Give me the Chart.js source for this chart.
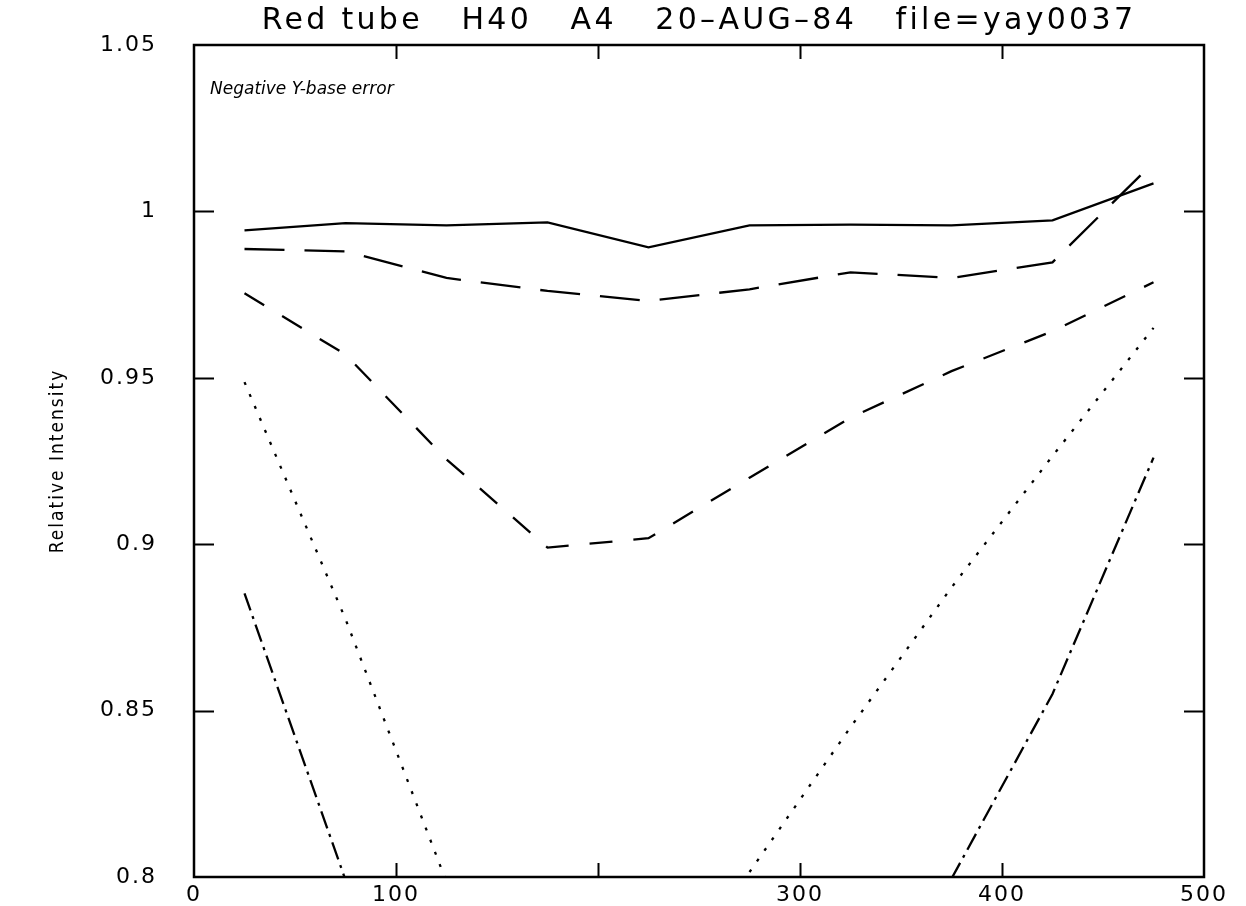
<!DOCTYPE html>
<html>
<head>
<meta charset="utf-8">
<title>Red tube H40 A4</title>
<script src="https://cdn.jsdelivr.net/npm/chart.js@4.4.1/dist/chart.umd.min.js"></script>
<style>
  html, body { margin: 0; padding: 0; background: #fff; }
  #wrap { width: 1246px; height: 906px; }
</style>
</head>
<body>
<div id="wrap"><canvas id="chart" width="1246" height="906"></canvas></div>
<script>
// x positions of the samples
const xValues = [25, 75, 125, 175, 225, 275, 325, 375, 425, 475];

// series (null = below 0.8, not visible)
const solidLine = [0.9943, 0.9965, 0.9958, 0.9967, 0.9892, 0.9958, 0.996, 0.9958, 0.9973, 1.0084];
const longDash = [0.9887, 0.988, 0.980, 0.9761, 0.9731, 0.9766, 0.9817, 0.980, 0.9847, 1.0147];
const shortDash = [0.9754, 0.957, 0.9255, 0.899, 0.9018, 0.920, 0.938, 0.952, 0.964, 0.9787];
const dotted = [0.9487, 0.8775, 0.7985, null, null, 0.8015, 0.845, 0.887, 0.9265, 0.965];
const dashDot = [0.8852, 0.7991, null, null, null, null, null, 0.7995, 0.855, 0.926];

// tick labels (200 is not printed on the original)
const xTicks = [0, 100, 200, 300, 400, 500];
const xTickLabels = ["0", "100", "", "300", "400", "500"];
const yTicks = [0.8, 0.85, 0.9, 0.95, 1, 1.05];
const yTickLabels = ["0.8", "0.85", "0.9", "0.95", "1", "1.05"];

const titleText = "Red tube   H40   A4   20\u2013AUG\u201384   file=yay0037";
const noteText = "Negative Y-base error";

function toPoints(values) {
  return xValues.map((x, i) => ({ x: x, y: values[i] }));
}

function makeSet(label, values, dash) {
  return {
    label: label,
    data: toPoints(values),
    borderColor: "#000",
    borderWidth: 2.3,
    borderDash: dash,
    pointRadius: 0,
    tension: 0,
    fill: false,
    spanGaps: false,
  };
}

// the old plotter font is wide, so space the letters out a bit
const spacingPlugin = {
  id: "spacing",
  beforeDraw(chart) {
    chart.ctx.letterSpacing = "2px";
  },
  afterDraw(chart) {
    const { ctx, chartArea: a } = chart;
    // title over the plot box
    ctx.save();
    ctx.letterSpacing = "3.3px";
    ctx.fillStyle = "#000";
    ctx.font = "30px 'DejaVu Sans', sans-serif";
    ctx.textAlign = "center";
    ctx.textBaseline = "middle";
    ctx.fillText(titleText, (a.left + a.right) / 2, 21);
    ctx.restore();
    ctx.letterSpacing = "0px";
  },
};

// frame with inward ticks + the hand written note
const framePlugin = {
  id: "frame",
  afterDatasetsDraw(chart) {
    const { ctx, chartArea: a, scales } = chart;
    const x = scales.x;
    const y = scales.y;
    ctx.save();
    ctx.strokeStyle = "#000";
    ctx.lineWidth = 2.5;
    ctx.setLineDash([]);
    ctx.strokeRect(a.left, a.top, a.right - a.left, a.bottom - a.top);

    ctx.lineWidth = 2;
    ctx.beginPath();
    yTicks.forEach((v) => {
      if (v <= y.min + 1e-9 || v >= y.max - 1e-9) return;
      const py = Math.round(y.getPixelForValue(v)) + 0.5;
      ctx.moveTo(a.left, py);
      ctx.lineTo(a.left + 20, py);
      ctx.moveTo(a.right - 20, py);
      ctx.lineTo(a.right, py);
    });
    xTicks.forEach((v) => {
      if (v <= x.min || v >= x.max) return;
      const px = Math.round(x.getPixelForValue(v)) + 0.5;
      ctx.moveTo(px, a.bottom);
      ctx.lineTo(px, a.bottom - 14);
      ctx.moveTo(px, a.top);
      ctx.lineTo(px, a.top + 14);
    });
    ctx.stroke();

    ctx.letterSpacing = "0px";
    ctx.fillStyle = "#000";
    ctx.font = "italic 17px 'DejaVu Sans', sans-serif";
    ctx.textBaseline = "middle";
    ctx.textAlign = "left";
    ctx.fillText(noteText, a.left + 16, a.top + 45);
    ctx.restore();
  },
};

Chart.defaults.color = "#000";
Chart.defaults.font.family = "'DejaVu Sans', sans-serif";

new Chart(document.getElementById("chart"), {
  type: "line",
  data: {
    datasets: [
      makeSet("solid", solidLine, []),
      makeSet("long dash", longDash, [40, 20]),
      makeSet("short dash", shortDash, [23, 21]),
      makeSet("dotted", dotted, [3, 10]),
      makeSet("dash dot", dashDot, [18, 6, 3, 6]),
    ],
  },
  options: {
    responsive: false,
    animation: false,
    layout: { padding: { top: 45, right: 42, bottom: 0, left: 0 } },
    plugins: {
      legend: { display: false },
      tooltip: { enabled: false },
      title: { display: false },
    },
    scales: {
      x: {
        type: "linear",
        min: 0,
        max: 500,
        afterBuildTicks: (scale) => {
          scale.ticks = xTicks.map((v) => ({ value: v }));
        },
        afterFit: (scale) => {
          scale.height = 29;
          scale.paddingLeft = 0;
          scale.paddingRight = 0;
        },
        grid: { display: false, drawTicks: false },
        border: { display: false },
        ticks: {
          padding: 5,
          maxRotation: 0,
          autoSkip: false,
          font: { size: 22 },
          callback: (v, i) => xTickLabels[i],
        },
      },
      y: {
        type: "linear",
        min: 0.8,
        max: 1.05,
        afterBuildTicks: (scale) => {
          scale.ticks = yTicks.map((v) => ({ value: v }));
        },
        afterFit: (scale) => {
          scale.width = 194;
          scale.paddingTop = 0;
          scale.paddingBottom = 0;
        },
        grid: { display: false, drawTicks: false },
        border: { display: false },
        ticks: {
          padding: 37,
          autoSkip: false,
          font: { size: 22 },
          callback: (v, i) => yTickLabels[i],
        },
        title: {
          display: true,
          text: "Relative Intensity",
          font: { size: 19, family: "'Liberation Sans Narrow', 'DejaVu Sans Condensed', 'Liberation Sans', sans-serif" },
          padding: { top: 47, bottom: 0 },
        },
      },
    },
  },
  plugins: [spacingPlugin, framePlugin],
});
</script>
</body>
</html>
